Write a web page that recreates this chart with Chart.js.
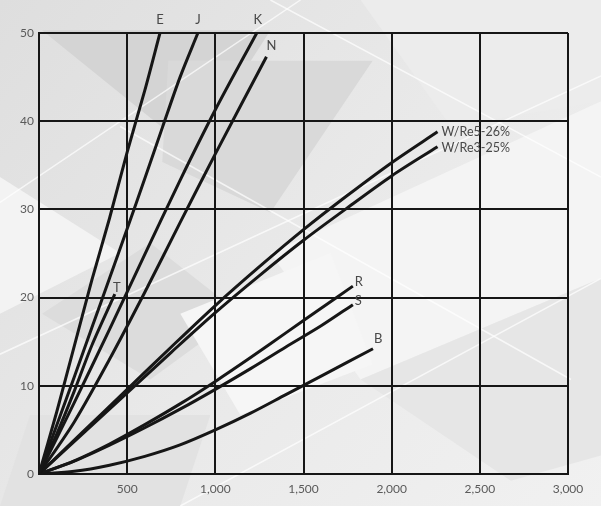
<!DOCTYPE html>
<html>
<head>
<meta charset="utf-8">
<script src="https://cdn.jsdelivr.net/npm/chart.js@4.4.1/dist/chart.umd.min.js"></script>
<style>
  html, body { margin: 0; padding: 0; background: #e9e9e9; }
  #wrap { width: 601px; height: 506px; }
</style>
</head>
<body>
<div id="wrap"><canvas id="c" width="601" height="506"></canvas></div>
<script>
// Temperature (°C) vs EMF (mV).
const tempE = [0, 100, 200, 300, 400, 500, 600, 686];
const mvE = [0, 7, 14.5, 22, 29, 36.5, 43.5, 50];
const tempJ = [0, 100, 200, 300, 400, 500, 600, 700, 800, 901];
const mvJ = [0, 5.5, 11, 16.6, 22.2, 27.8, 33.5, 39.3, 45, 50];
const tempK = [0, 200, 400, 600, 800, 1000, 1235];
const mvK = [0, 8.1, 16.4, 24.9, 33.3, 41.3, 50];
const tempN = [0, 200, 400, 600, 800, 1000, 1290];
const mvN = [0, 5.9, 13, 20.6, 28.5, 36.3, 47.3];
const tempT = [0, 100, 200, 300, 430];
const mvT = [0, 4.5, 9.4, 14.6, 20.4];
const tempR = [0, 200, 400, 600, 800, 1000, 1200, 1400, 1600, 1780];
const mvR = [0, 1.5, 3.4, 5.6, 7.95, 10.5, 13.2, 16, 18.8, 21.3];
const tempS = [0, 200, 400, 600, 800, 1000, 1200, 1400, 1600, 1780];
const mvS = [0, 1.45, 3.26, 5.24, 7.35, 9.6, 11.95, 14.4, 16.8, 19.2];
const tempB = [0, 200, 400, 600, 800, 1000, 1200, 1400, 1600, 1894];
const mvB = [0, 0.3, 1, 2, 3.3, 5, 6.9, 9, 11.1, 14.2];
const tempW = [0, 250, 500, 750, 1000, 1250, 1500, 1750, 2000, 2260];
const mvW526 = [0, 4.8, 9.6, 14.4, 19.1, 23.5, 27.7, 31.6, 35.3, 38.8];
const mvW325 = [0, 4.6, 9.2, 13.8, 18.3, 22.5, 26.5, 30.2, 33.8, 37.1];

const series = [
    { name: 'E', t: tempE, v: mvE },
    { name: 'J', t: tempJ, v: mvJ },
    { name: 'K', t: tempK, v: mvK },
    { name: 'N', t: tempN, v: mvN },
    { name: 'T', t: tempT, v: mvT },
    { name: 'R', t: tempR, v: mvR },
    { name: 'S', t: tempS, v: mvS },
    { name: 'B', t: tempB, v: mvB },
    { name: 'W/Re5-26%', t: tempW, v: mvW526 },
    { name: 'W/Re3-25%', t: tempW, v: mvW325 },
];

// label placement relative to the curve end (px)
const labelPos = {
    'E': [0, -13, 'center'], 'J': [0, -13, 'center'], 'K': [1, -13, 'center'],
    'N': [5, -11, 'center'], 'T': [2, -6, 'center'],
    'R': [2, -4, 'left'], 'S': [2, -4, 'left'], 'B': [1, -10, 'left'],
    'W/Re5-26%': [4, 0, 'left'], 'W/Re3-25%': [4, 1, 'left'],
};

const INK = '#161616';
const TXT = '#5a5a5a';

// backdrop: grey geometric pattern
const backdrop = {
    id: 'backdrop',
    beforeDraw(chart) {
        const { ctx, width: w, height: h } = chart;
        ctx.save();
        const g = ctx.createLinearGradient(0, 0, w, h);
        g.addColorStop(0, '#dedede');
        g.addColorStop(0.5, '#e9e9e9');
        g.addColorStop(1, '#f1f1f1');
        ctx.fillStyle = g;
        ctx.fillRect(0, 0, w, h);
        const poly = (pts, col) => {
            ctx.beginPath();
            pts.forEach(([x, y], i) => (i ? ctx.lineTo(x * w, y * h) : ctx.moveTo(x * w, y * h)));
            ctx.closePath();
            ctx.fillStyle = col;
            ctx.fill();
        };
        poly([[0.07, 0.06], [0.45, 0.06], [0.32, 0.3]], '#d4d4d4');
        poly([[0.28, 0.12], [0.62, 0.12], [0.45, 0.42], [0.27, 0.32]], '#d9d9d9');
        poly([[0.0, 0.35], [0.2, 0.5], [0.0, 0.62]], '#f3f3f3');
        poly([[0.07, 0.62], [0.25, 0.48], [0.4, 0.62], [0.25, 0.75]], '#dcdcdc');
        poly([[0.45, 0.5], [1.0, 0.2], [1.0, 0.55], [0.6, 0.75]], '#f4f4f4');
        poly([[0.6, 0.75], [1.0, 0.55], [1.0, 0.9], [0.85, 0.95]], '#e6e6e6');
        poly([[0.3, 0.62], [0.55, 0.5], [0.62, 0.72], [0.4, 0.82]], '#f6f6f6');
        poly([[0.05, 0.82], [0.35, 0.82], [0.3, 1.0], [0.0, 1.0]], '#e2e2e2');
        poly([[0.6, 0.0], [1.0, 0.0], [1.0, 0.2], [0.75, 0.25]], '#ececec');
        ctx.strokeStyle = 'rgba(255,255,255,0.7)';
        ctx.lineWidth = 1.5;
        [[[0.0, 0.4], [0.5, 0.0]], [[0.2, 0.25], [0.95, 0.75]], [[0.0, 0.7], [1.0, 0.15]],
         [[0.3, 1.0], [1.0, 0.55]], [[0.45, 0.0], [1.0, 0.35]]].forEach(([a, b]) => {
            ctx.beginPath();
            ctx.moveTo(a[0] * w, a[1] * h);
            ctx.lineTo(b[0] * w, b[1] * h);
            ctx.stroke();
        });
        ctx.restore();
    },
};

// curve names at the end of each line
const endLabels = {
    id: 'endLabels',
    afterDatasetsDraw(chart) {
        const { ctx } = chart;
        ctx.save();
        ctx.fillStyle = '#484848';
        ctx.textBaseline = 'middle';
        chart.data.datasets.forEach((ds, i) => {
            const pts = chart.getDatasetMeta(i).data;
            const last = pts[pts.length - 1];
            const [dx, dy, align] = labelPos[ds.label];
            ctx.textAlign = align;
            ctx.font = ds.label.length > 2 ? '12.5px Lato' : '13px Lato';
            ctx.fillText(ds.label, last.x + dx, last.y + dy);
        });
        ctx.restore();
    },
};

new Chart(document.getElementById('c'), {
    type: 'line',
    data: {
        datasets: series.map((s) => ({
            label: s.name,
            data: s.t.map((t, i) => ({ x: t, y: s.v[i] })),
            borderColor: INK,
            borderWidth: 3,
            pointRadius: 0,
            fill: false,
            tension: 0.3,
        })),
    },
    options: {
        responsive: false,
        animation: false,
        layout: { padding: { top: 33, right: 33, left: 0, bottom: 0 } },
        plugins: { legend: { display: false }, tooltip: { enabled: false } },
        scales: {
            x: {
                type: 'linear', min: 0, max: 3000,
                afterFit: (s) => { s.height = 32; },
                ticks: {
                    stepSize: 500, maxRotation: 0, padding: 8, color: TXT,
                    font: { family: 'Lato', size: 12 },
                    callback: (v) => (v === 0 ? '' : v.toLocaleString('en-US')),
                },
                grid: { color: INK, lineWidth: 2, drawTicks: false },
                border: { color: INK, width: 2 },
            },
            y: {
                min: 0, max: 50,
                afterFit: (s) => { s.width = 39; },
                ticks: { stepSize: 10, padding: 5, color: TXT, font: { family: 'Lato', size: 12 } },
                grid: { color: INK, lineWidth: 2, drawTicks: false },
                border: { color: INK, width: 2 },
            },
        },
    },
    plugins: [backdrop, endLabels],
});
</script>
</body>
</html>
